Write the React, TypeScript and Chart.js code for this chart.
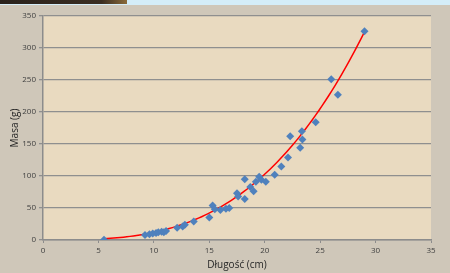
import React, { useEffect, useRef } from "react";
import { Chart, registerables } from "chart.js";

Chart.register(...registerables);

// Measured points: length (cm) and mass (g)
const lengths = [
  5.5, 9.2, 9.6, 9.9, 10.2, 10.4, 10.7, 10.9, 11.1, 12.1, 12.6, 12.8, 13.6,
  15.0, 15.3, 15.5, 16.0, 16.5, 16.8, 17.5, 17.6, 18.2, 18.2, 18.7, 19.0, 19.2,
  19.5, 19.7, 20.1, 20.9, 21.5, 22.1, 22.3, 23.2, 23.35, 23.4, 24.6, 26.0,
  26.6, 29.0,
];
const masses = [
  0.5, 8, 9, 10, 11, 12, 13, 12, 14, 19, 21, 24, 29, 35, 54, 48, 47, 49, 50,
  73, 68, 64, 95, 83, 76, 91, 99, 94, 91, 102, 115, 129, 162, 144, 170, 157,
  184, 251, 227, 326,
];

// Power trendline y = a * x^b (as shown by the spreadsheet trendline)
const trendA = 0.00952;
const trendB = 3.1;
const trendFrom = 5.5;
const trendTo = 29.0;
const trendSteps = 80;

const xTicks = [0, 5, 10, 15, 20, 25, 30, 35];
const yTicks = [0, 50, 100, 150, 200, 250, 300, 350];

const xTitle = "Długość (cm)";
const yTitle = "Masa (g)";

export default function App() {
  const ref = useRef<HTMLCanvasElement>(null);

  useEffect(() => {
    document.body.style.margin = "0";
    const canvas = ref.current!;
    const points = lengths.map((x, i) => ({ x, y: masses[i] }));
    const trend: { x: number; y: number }[] = [];
    for (let i = 0; i <= trendSteps; i++) {
      const x = trendFrom + ((trendTo - trendFrom) * i) / trendSteps;
      trend.push({ x, y: trendA * Math.pow(x, trendB) });
    }

    const bgPlugin = {
      id: "bg",
      beforeDraw(chart: any) {
        const { ctx, width, height, chartArea } = chart;
        ctx.save();
        ctx.fillStyle = "#cfc7b9";
        ctx.fillRect(0, 0, width, height);
        ctx.fillStyle = "#d4edf8";
        ctx.fillRect(0, 0, width, 5);
        const g = ctx.createLinearGradient(0, 0, 127, 0);
        g.addColorStop(0, "#2a221c");
        g.addColorStop(0.8, "#3b2e22");
        g.addColorStop(1, "#8a6a3a");
        ctx.fillStyle = g;
        ctx.fillRect(0, 0, 127, 4);
        ctx.fillStyle = "#e9dac0";
        ctx.fillRect(
          chartArea.left,
          chartArea.top,
          chartArea.right - chartArea.left,
          chartArea.bottom - chartArea.top
        );
        ctx.restore();
      },
    };

    const chart = new Chart(canvas, {
      type: "scatter",
      data: {
        datasets: [
          {
            data: trend,
            showLine: true,
            borderColor: "#ff0000",
            borderWidth: 1.5,
            pointRadius: 0,
            pointHoverRadius: 0,
            fill: false,
            order: 2,
          } as any,
          {
            data: points,
            pointStyle: "rectRot",
            pointRadius: 4,
            backgroundColor: "#4f81bd",
            borderColor: "#4f81bd",
            borderWidth: 0,
            order: 1,
          } as any,
        ],
      },
      options: {
        animation: false,
        responsive: false,
        devicePixelRatio: 1,
        layout: { padding: { top: 16, right: 19, left: 0, bottom: 0 } },
        plugins: {
          legend: { display: false },
          tooltip: { enabled: false },
        },
        scales: {
          x: {
            type: "linear",
            min: 0,
            max: 35,
            afterBuildTicks: (s: any) => {
              s.ticks = xTicks.map((v) => ({ value: v }));
            },
            afterFit: (s: any) => {
              s.height = 33;
            },
            grid: {
              drawOnChartArea: false,
              drawTicks: true,
              tickLength: 3,
              color: "#8c8c8c",
              lineWidth: 1,
            },
            border: { color: "#8c8c8c", width: 1.5 },
            ticks: {
              color: "#404040",
              font: { family: "'Open Sans'", size: 8 },
              padding: 3,
              maxRotation: 0,
            },
            title: {
              display: true,
              text: xTitle,
              color: "#262626",
              font: { family: "'Open Sans'", size: 10 },
              padding: { top: 0, bottom: 2 },
            },
          },
          y: {
            type: "linear",
            min: 0,
            max: 350,
            afterBuildTicks: (s: any) => {
              s.ticks = yTicks.map((v) => ({ value: v }));
            },
            afterFit: (s: any) => {
              s.width = 43;
            },
            grid: {
              drawTicks: true,
              tickLength: 4,
              color: "#8f8f8f",
              lineWidth: 1.3,
            },
            border: { color: "#8c8c8c", width: 1.5 },
            ticks: {
              color: "#404040",
              font: { family: "'Open Sans'", size: 8 },
              padding: 3,
            },
            title: {
              display: true,
              text: yTitle,
              color: "#262626",
              font: { family: "'Open Sans'", size: 10 },
              padding: { top: 9, bottom: 0 },
            },
          },
        },
      },
      plugins: [bgPlugin],
    });
    return () => chart.destroy();
  }, []);

  return (
    <div style={{ position: "absolute", left: 0, top: 0, width: 450, height: 273 }}>
      <canvas ref={ref} width={450} height={273} style={{ display: "block" }} />
    </div>
  );
}
